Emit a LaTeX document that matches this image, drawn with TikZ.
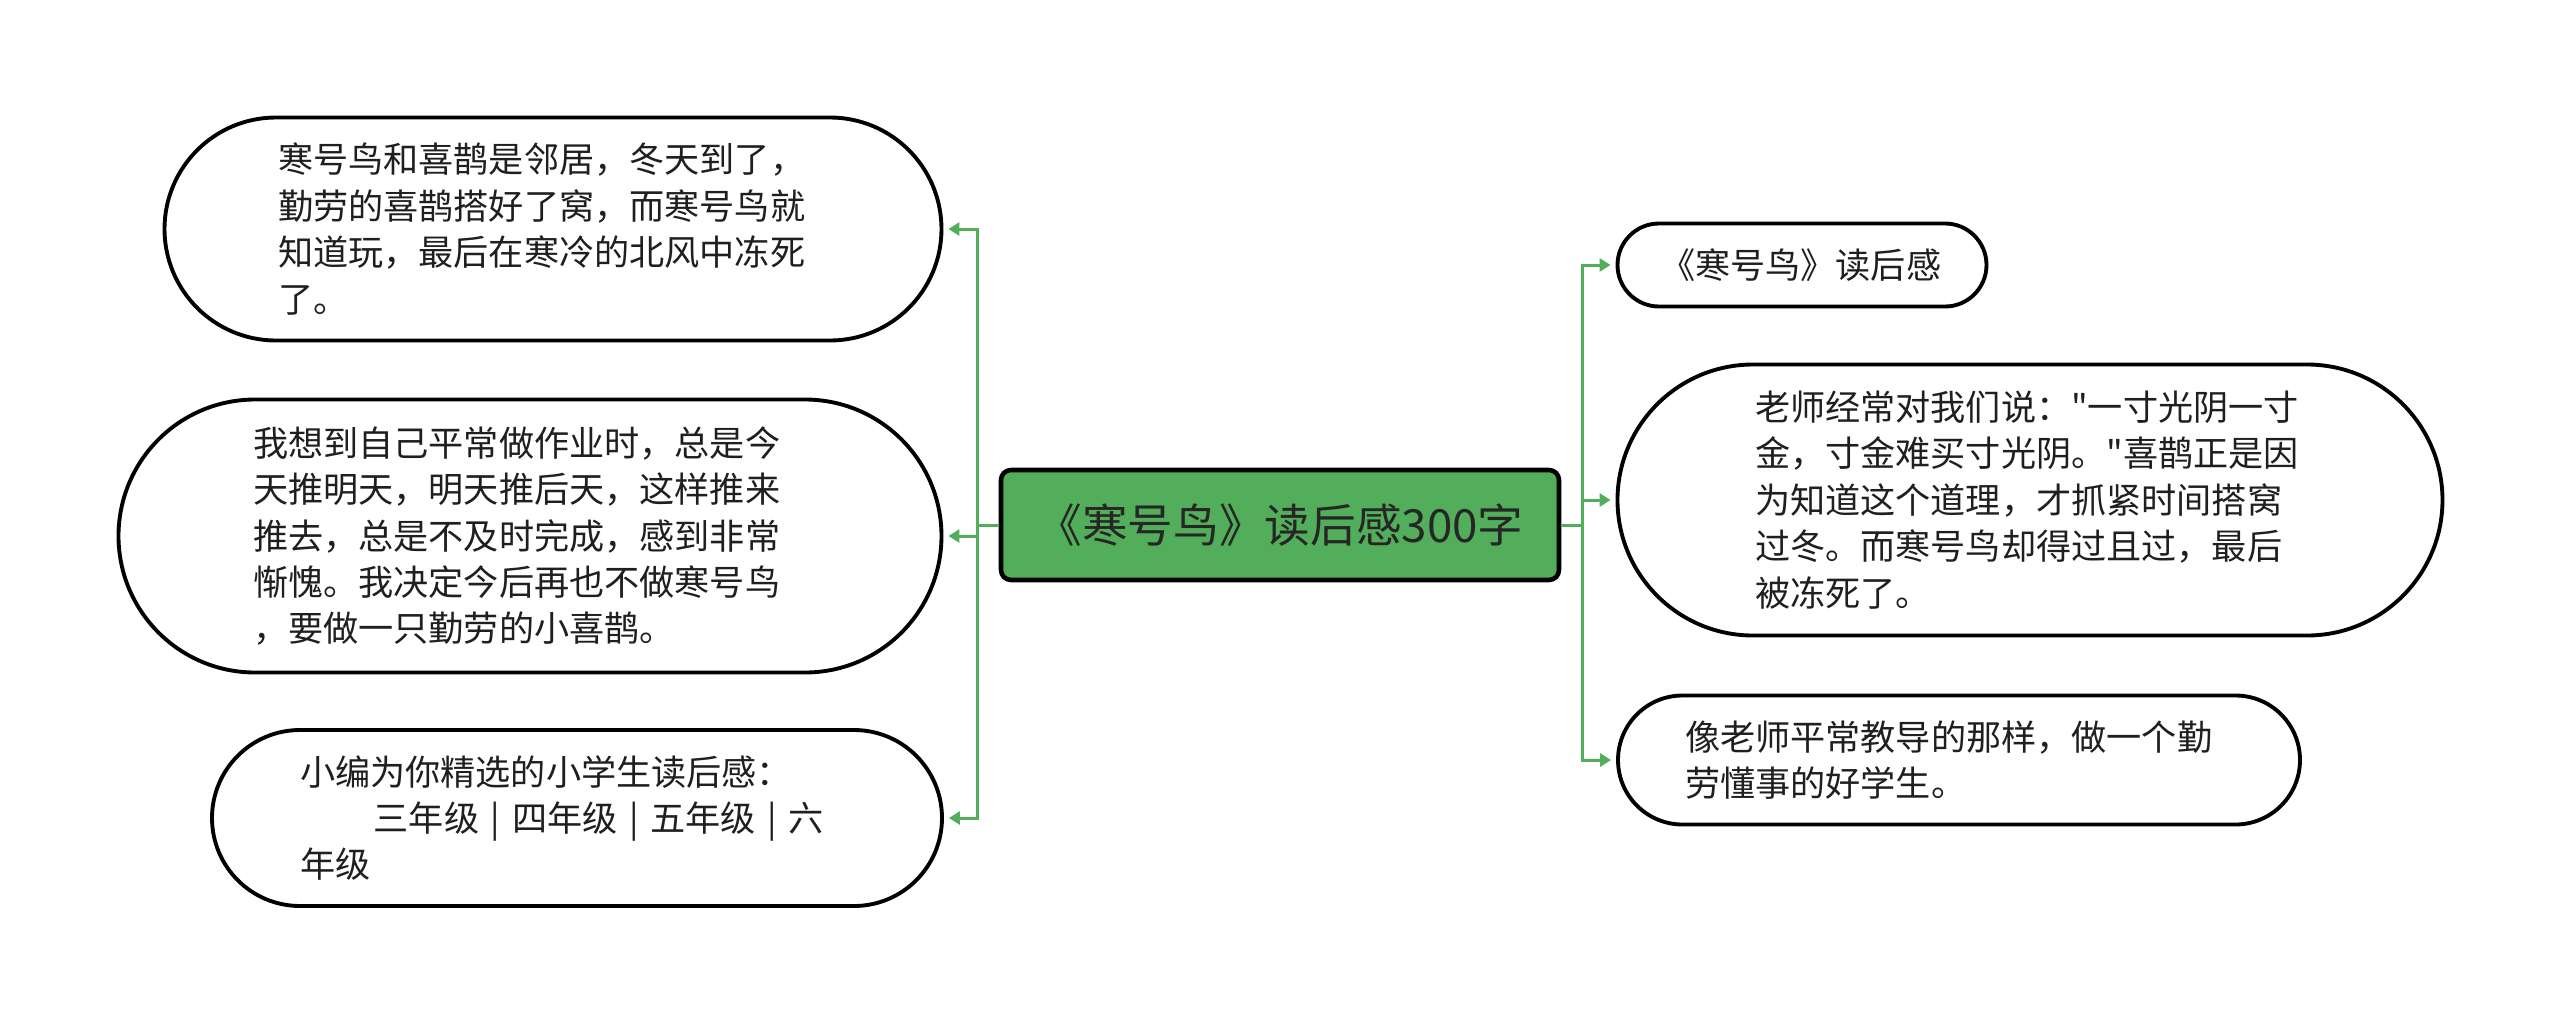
\documentclass[tikz,border=0pt]{standalone}
\usepackage{fontspec}
\newfontfamily\cjk{Noto Sans CJK SC}
\usetikzlibrary{arrows.meta}
\definecolor{mapgreen}{HTML}{52AE5A}
\tikzset{
  bubble/.style={draw=black, line width=1.1pt, fill=white, rounded corners=#1,
    inner sep=0pt, align=left, text width=55mm, text=black!88,
    font=\cjk\fontsize{10}{13.2}\selectfont},
  topic/.style={draw=black, line width=1.3pt, fill=mapgreen, rounded corners=1mm,
    inner sep=0pt, minimum width=55.8mm, minimum height=11mm, text=black!85,
    font=\cjk\fontsize{13}{15}\selectfont},
  link/.style={draw=mapgreen, line width=0.85pt, shorten >=0.5mm,
    -{Triangle[length=1.1mm,width=1.3mm]}},
}
\begin{document}
\begin{tikzpicture}[x=0.1mm,y=-0.1mm]
    \useasboundingbox (0,0) rectangle (2560,1026);
    % Central topic
    \node[topic] (root) at (1280,525) {《寒号鸟》读后感300字};
    % Left branches
    \node[bubble=11.15mm, minimum width=77.7mm, minimum height=22.3mm] (l1) at (553,229)
      {寒号鸟和喜鹊是邻居，冬天到了，\\勤劳的喜鹊搭好了窝，而寒号鸟就\\知道玩，最后在寒冷的北风中冻死\\了。};
    \node[bubble=13.65mm, minimum width=82.3mm, minimum height=27.3mm, text width=55.4mm] (l2) at (530,536)
      {我想到自己平常做作业时，总是今\\天推明天，明天推后天，这样推来\\推去，总是不及时完成，感到非常\\惭愧。我决定今后再也不做寒号鸟\\，要做一只勤劳的小喜鹊。};
    \node[bubble=8.8mm, minimum width=73mm, minimum height=17.6mm, text width=55.4mm] (l3) at (577,818)
      {小编为你精选的小学生读后感：\\\hspace*{2.1em}三年级 | 四年级 | 五年级 | 六\\年级};
    % Right branches
    \node[bubble=4.15mm, minimum width=36.9mm, minimum height=8.3mm, text width=28.4mm] (r1) at (1802,265)
      {《寒号鸟》读后感};
    \node[bubble=13.55mm, minimum width=82.5mm, minimum height=27.1mm] (r2) at (2030,500)
      {老师经常对我们说："一寸光阴一寸\\金，寸金难买寸光阴。"喜鹊正是因\\为知道这个道理，才抓紧时间搭窝\\过冬。而寒号鸟却得过且过，最后\\被冻死了。};
    \node[bubble=6.45mm, minimum width=68.2mm, minimum height=12.9mm, text width=54.8mm] (r3) at (1959,760)
      {像老师平常教导的那样，做一个勤\\劳懂事的好学生。};
    % Connectors
    \draw[link] (root.west) -- ++(-2.1mm,0) |- (l1.east);
    \draw[link] (root.west) -- ++(-2.1mm,0) |- (l2.east);
    \draw[link] (root.west) -- ++(-2.1mm,0) |- (l3.east);
    \draw[link] (root.east) -- ++(2.1mm,0) |- (r1.west);
    \draw[link] (root.east) -- ++(2.1mm,0) |- (r2.west);
    \draw[link] (root.east) -- ++(2.1mm,0) |- (r3.west);
\end{tikzpicture}
\end{document}
